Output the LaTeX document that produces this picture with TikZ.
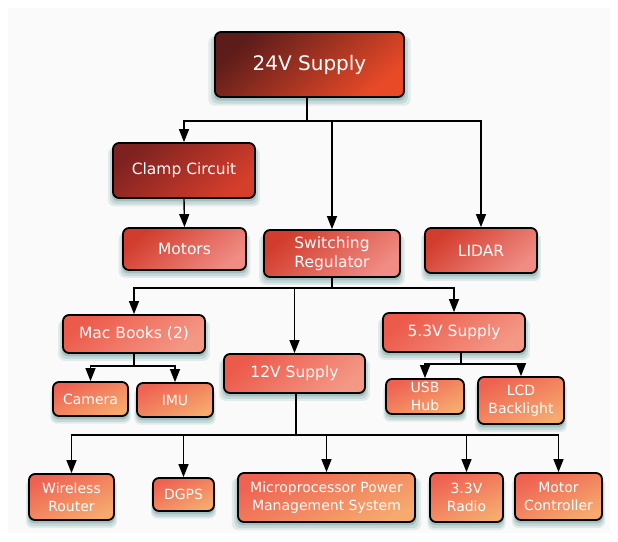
\documentclass[tikz,border=0pt]{standalone}
\usepackage{fontspec}
\setmainfont{DejaVu Sans}
\usetikzlibrary{arrows.meta,shadows}
\definecolor{bgc}{HTML}{FAFAFA}
\definecolor{shc}{HTML}{5E9494}
\definecolor{aA}{HTML}{5C1C1A}\definecolor{aB}{HTML}{E84A28}
\definecolor{bA}{HTML}{7E2220}\definecolor{bB}{HTML}{D63E2C}
\definecolor{cA}{HTML}{D23C2C}\definecolor{cB}{HTML}{F08C84}
\definecolor{dA}{HTML}{EC5A4A}\definecolor{dB}{HTML}{F49886}
\definecolor{eA}{HTML}{EE6252}\definecolor{eB}{HTML}{F6AA6E}
\tikzset{
  box/.style={rounded corners=6pt, draw=black, line width=1.8pt, align=center,
    text=white, inner sep=0pt,
    general shadow={shadow scale=1.07, shadow yshift=-6pt, fill=shc, opacity=.15},
    general shadow={shadow scale=1.04, shadow yshift=-5pt, fill=shc, opacity=.2},
    general shadow={shadow scale=1.015, shadow yshift=-3pt, fill=shc, opacity=.35}},
  lvA/.style={box, top color=aA, bottom color=aB, shading angle=40,
    font=\fontsize{20}{24}\selectfont},
  lvB/.style={box, top color=bA, bottom color=bB, shading angle=40,
    font=\fontsize{15.5}{19.5}\selectfont},
  lvC/.style={box, top color=cA, bottom color=cB, shading angle=40,
    font=\fontsize{15.5}{19.5}\selectfont},
  lvD/.style={box, top color=dA, bottom color=dB, shading angle=40,
    font=\fontsize{15.5}{19.5}\selectfont},
  lvE/.style={box, top color=eA, bottom color=eB, shading angle=25,
    font=\fontsize{14}{18}\selectfont},
  conn/.style={line width=1.4pt},
  arr/.style={line width=1.4pt, -{Triangle[width=10pt,length=13pt]}},
}
\begin{document}
\begin{tikzpicture}[x=1pt,y=1pt]
\useasboundingbox (0,0) rectangle (618,-541);
\fill[white] (0,0) rectangle (618,-541);
\fill[bgc] (8,-8) rectangle (610,-533);

\node[lvA, minimum width=189, minimum height=65] (v24) at (309.5,-64.5) {24V Supply};
\node[lvB, minimum width=142, minimum height=55] (clamp) at (184,-170.5) {Clamp Circuit};
\node[lvC, minimum width=123, minimum height=42] (motors) at (184.5,-249) {Motors};
\node[lvC, minimum width=136, minimum height=47] (sw) at (332,-253.5) {Switching\\Regulator};
\node[lvC, minimum width=112, minimum height=45] (lidar) at (481,-250.5) {LIDAR};
\node[lvD, minimum width=142, minimum height=38] (mac) at (134,-334) {Mac Books (2)};
\node[lvD, minimum width=141, minimum height=39] (v12) at (294.5,-373.5) {12V Supply};
\node[lvD, minimum width=142, minimum height=39] (v53) at (454,-332.5) {5.3V Supply};
\node[lvE, minimum width=75, minimum height=34] (cam) at (90.5,-399) {Camera};
\node[lvE, minimum width=76, minimum height=34] (imu) at (175,-400) {IMU};
\node[lvE, minimum width=78, minimum height=35] (usb) at (425,-396.5) {USB\\Hub};
\node[lvE, minimum width=86, minimum height=47] (lcd) at (521,-400.5) {LCD\\Backlight};
\node[lvE, minimum width=85, minimum height=46] (wr) at (71.5,-497) {Wireless\\Router};
\node[lvE, minimum width=61, minimum height=33] (dgps) at (183.5,-494.5) {DGPS};
\node[lvE, minimum width=177, minimum height=49] (mpm) at (326.5,-497.5) {Microprocessor Power\\Management System};
\node[lvE, minimum width=73, minimum height=49] (radio) at (466.5,-497.5) {3.3V\\Radio};
\node[lvE, minimum width=87, minimum height=47] (mc) at (558.5,-496.5) {Motor\\Controller};

% 24V supply branches
\coordinate (j1) at (307,-121);
\draw[conn] (j1 |- v24.south) -- (j1);
\draw[arr] (j1) -| (clamp.north);
\draw[arr] (j1) -| (sw.north);
\draw[arr] (j1) -| (lidar.north);
\draw[arr] (clamp.south) -- (motors.north);

% switching regulator branches
\coordinate (j2) at (332,-288);
\draw[conn] (sw.south) -- (j2);
\draw[arr] (j2) -| (mac.north);
\draw[arr] (j2) -| (v12.north);
\draw[arr] (j2) -| (v53.north);

% mac books
\coordinate (j3) at (134,-366);
\draw[conn] (mac.south) -- (j3);
\draw[arr] (j3) -| (cam.north);
\draw[arr] (j3) -| (imu.north);

% 5.3V supply
\coordinate (j4) at (461,-364);
\draw[conn] (j4 |- v53.south) -- (j4);
\draw[arr] (j4) -| (usb.north);
\draw[arr] (j4) -| (lcd.north);

% 12V supply
\coordinate (j5) at (296,-435);
\draw[conn] (j5 |- v12.south) -- (j5);
\draw[arr] (j5) -| (wr.north);
\draw[arr] (j5) -| (dgps.north);
\draw[arr] (j5) -| (mpm.north);
\draw[arr] (j5) -| (radio.north);
\draw[arr] (j5) -| (mc.north);
\end{tikzpicture}
\end{document}
